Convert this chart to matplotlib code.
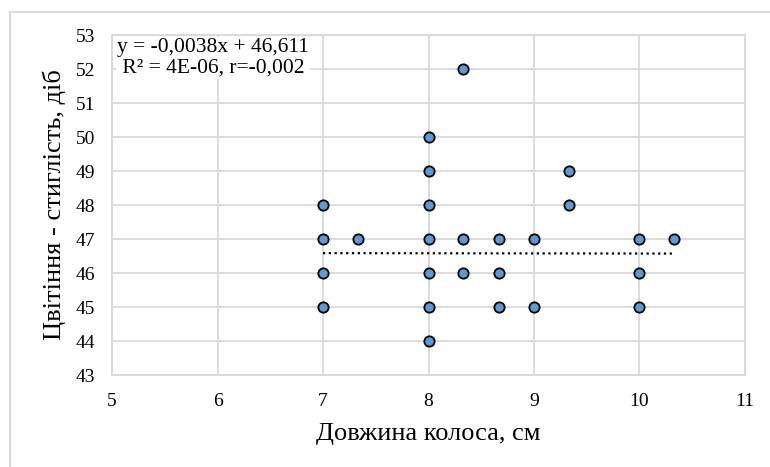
import matplotlib.pyplot as plt
from matplotlib.patches import Rectangle

plt.rcParams['font.family'] = ['Liberation Serif', 'DejaVu Serif']

# --- Дані (довжина колоса, цвітіння - стиглість) ---
spike_len = [7, 7, 7, 7, 7.33,
             8, 8, 8, 8, 8, 8, 8,
             8.33, 8.33, 8.33,
             8.67, 8.67, 8.67,
             9, 9,
             9.33, 9.33,
             10, 10, 10,
             10.33]
days = [48, 47, 46, 45, 47,
        50, 49, 48, 47, 46, 45, 44,
        52, 47, 46,
        47, 46, 45,
        47, 45,
        49, 48,
        47, 46, 45,
        47]
slope, intercept = -0.0038, 46.611
trend_x = [min(spike_len), max(spike_len)]
x_ticks = [5, 6, 7, 8, 9, 10, 11]
y_ticks = list(range(43, 54))

fig = plt.figure(figsize=(7.7, 4.67), dpi=100)
ax = fig.add_axes([0.1455, 0.197, 0.822, 0.728])

grid_c = '#d9d9d9'
ax.set_axisbelow(True)
ax.grid(True, color=grid_c, linewidth=1.3)
for s in ax.spines.values():
    s.set_color(grid_c)
    s.set_linewidth(1.3)

ax.scatter(spike_len, days, s=55, c='#5b9bd5', edgecolors='black',
           linewidths=1.3, zorder=3)
ax.plot(trend_x, [slope * x + intercept for x in trend_x],
        linestyle=(0, (1, 1.6)), color='black', linewidth=1.6, zorder=2)

ax.set_xlim(5, 11)
ax.set_ylim(43, 53)
ax.set_xticks(x_ticks)
ax.set_yticks(y_ticks)
ax.tick_params(length=0, labelsize=14)
ax.tick_params(axis='y', pad=12)
ax.tick_params(axis='x', pad=13)

ax.set_xlabel('Довжина колоса, см', fontsize=19, labelpad=9)
ax.set_ylabel('Цвітіння - стиглість, діб', fontsize=19, labelpad=7)

ax.text(0.008, 0.99, 'y = -0,0038x + 46,611\n R² = 4E-06, r=-0,002',
        transform=ax.transAxes, va='top', ha='left', fontsize=15.5,
        linespacing=1.05,
        bbox=dict(facecolor='white', edgecolor='none', pad=1))

# рамка діаграми
fig.patches.append(Rectangle((10 / 770, -0.1), 1.1, (467 - 12) / 467 + 0.1,
                             transform=fig.transFigure, fill=False,
                             edgecolor=grid_c, linewidth=1.5))

fig.savefig('out.png', dpi=100)
